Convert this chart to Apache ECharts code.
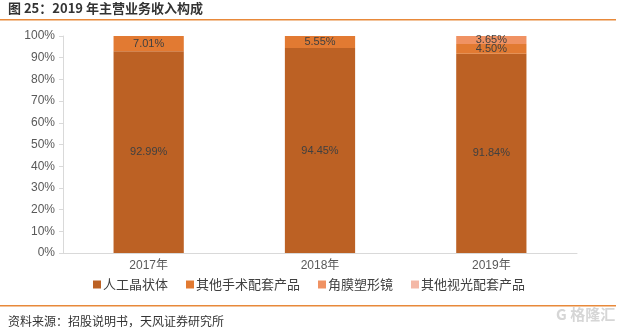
<!DOCTYPE html>
<html><head><meta charset="utf-8">
<script src="https://cdn.jsdelivr.net/npm/echarts@6/dist/echarts.min.js"></script>
<style>html,body{margin:0;padding:0;background:#fff}#c{width:620px;height:330px}</style>
</head><body><div id="c"></div>
<script>
const categories = ['2017年', '2018年', '2019年'];
const seriesNames = ['人工晶状体', '其他手术配套产品', '角膜塑形镜', '其他视光配套产品'];
const iol = [92.99, 94.45, 91.84];
const surgical = [7.01, 5.55, 4.50];
const orthoK = [0, 0, 3.65];
const otherVision = [0, 0, 0];
const yTicks = [0, 10, 20, 30, 40, 50, 60, 70, 80, 90, 100];
const colors = ['#BC6124', '#E27A32', '#F09263', '#F4B8A6'];
const allData = [iol, surgical, orthoK, otherVision];
const font = '"Liberation Sans","Noto Sans CJK SC",sans-serif';

const chart = echarts.init(document.getElementById('c'), null, {renderer: 'canvas'});
chart.setOption({
  animation: false,
  color: colors,
  grid: {left: 63, right: 43, top: 36, bottom: 77, containLabel: false},
  title: {
    text: '图 25：2019 年主营业务收入构成', left: 8, top: 2, padding: 0,
    textStyle: {fontSize: 13, fontWeight: 'bold', color: '#333', fontFamily: '"Noto Sans CJK SC",sans-serif'}
  },
  legend: {
    left: 88, top: 273, itemWidth: 8, itemHeight: 8, itemGap: 18, icon: 'rect',
    textStyle: {fontSize: 13, color: '#404040', fontFamily: '"Noto Sans CJK SC",sans-serif', padding: [0,0,0,-3]},
    data: seriesNames
  },
  xAxis: {
    type: 'category', data: categories,
    axisLine: {lineStyle: {color: '#D9D9D9'}},
    axisTick: {show: false},
    axisLabel: {fontSize: 12, color: '#595959', margin: 7, fontFamily: font}
  },
  yAxis: {
    type: 'value', min: yTicks[0], max: yTicks[yTicks.length - 1], interval: 10,
    axisLine: {show: true, lineStyle: {color: '#D9D9D9'}},
    axisTick: {show: true, length: 4, lineStyle: {color: '#D9D9D9'}},
    splitLine: {show: false},
    axisLabel: {fontSize: 12, color: '#595959', margin: 8, fontFamily: font, formatter: v => v + '%'}
  },
  series: seriesNames.map((name, i) => ({
    name, type: 'bar', stack: 'total', barWidth: '41%',
    data: allData[i],
    label: {
      show: true, position: 'inside', fontSize: 11, color: '#404040', fontFamily: font,
      formatter: p => p.value > 0 ? p.value.toFixed(2) + '%' : ''
    }
  })),
  graphic: [
    {type: 'rect', shape: {x: 0, y: 19, width: 616, height: 1.5}, style: {fill: '#E8893A'}},
    {type: 'rect', shape: {x: 0, y: 305, width: 616, height: 1.5}, style: {fill: '#E8893A'}},
    {type: 'text', left: 8, top: 315, style: {text: '资料来源：招股说明书，天风证券研究所', fontSize: 12, fill: '#333', fontFamily: '"Noto Sans CJK SC",sans-serif'}},
    {type: 'text', left: 556, top: 307, style: {text: 'G 格隆汇', fontSize: 15, fill: '#D6D6D6', fontFamily: '"Noto Sans CJK SC",sans-serif', fontWeight: 'bold'}}
  ]
});
</script></body></html>
